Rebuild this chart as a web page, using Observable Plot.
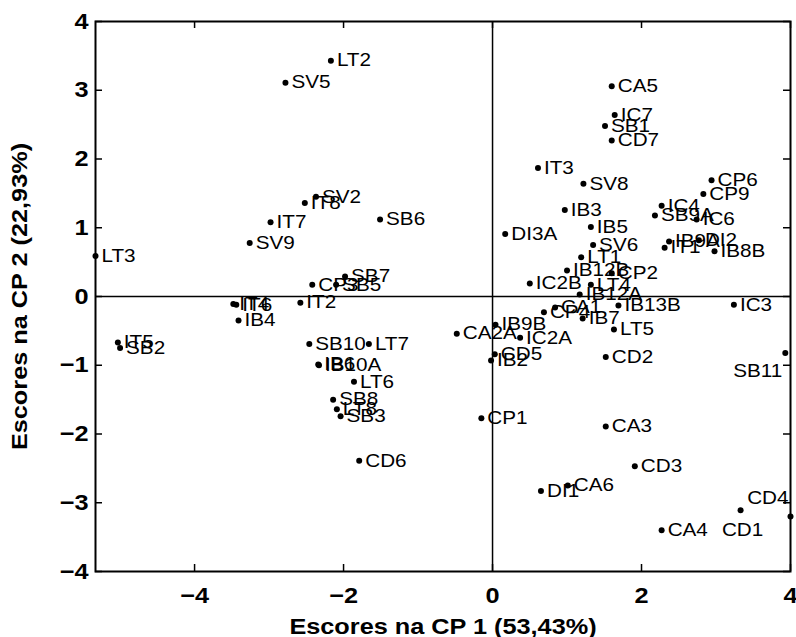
<!DOCTYPE html>
<html>
<head>
<meta charset="utf-8">
<script src="https://cdn.jsdelivr.net/npm/d3@7"></script>
<script src="https://cdn.jsdelivr.net/npm/@observablehq/plot@0.6"></script>
<style>
  html, body { margin: 0; padding: 0; background: #fff; }
</style>
</head>
<body>
<div id="chart"></div>
<script>
// Sample names and PCA scores
const names = ["LT2","SV5","SV2","IT8","IT7","SV9","LT3","SB6","CP3","SB5","SB7","IT2","IT4","IT6","IB4","IT5","SB2","SB10","LT7","IB6","IB10A","LT6","SB8","LT8","SB3","CD6",
  "CA5","IC7","SB1","CD7","IT3","SV8","IB3","IB5","DI3A","SV6","LT1","IB12B","CP2","IC2B","LT4","IB12A","IC4","SB9A","IC6","CP6","CP9","IB9A","DI2","IT1","IB8B","IC3","IB13B","CA1","CP4","IB7","LT5","IB9B","CA2A","IC2A","CD5","IB2","CD2","SB11","CP1","CA3","CD3","DI1","CA6","CD1","CD4","CA4"];
const pc1 = [-2.17,-2.78,-2.37,-2.52,-2.98,-3.26,-5.33,-1.51,-2.42,-2.10,-1.98,-2.58,-3.48,-3.44,-3.41,-5.03,-5.00,-2.46,-1.66,-2.34,-2.33,-1.86,-2.14,-2.09,-2.04,-1.79,
  1.60,1.64,1.51,1.60,0.61,1.22,0.97,1.32,0.17,1.35,1.19,1.00,1.60,0.50,1.32,1.17,2.27,2.18,2.74,2.94,2.83,2.37,2.77,2.31,2.98,3.24,1.69,0.84,0.69,1.21,1.63,0.04,-0.48,0.37,0.03,-0.02,1.52,3.93,-0.15,1.52,1.91,0.65,1.01,3.33,4.00,2.27];
const pc2 = [3.43,3.11,1.45,1.36,1.08,0.78,0.59,1.12,0.17,0.17,0.29,-0.09,-0.11,-0.12,-0.35,-0.67,-0.75,-0.69,-0.69,-0.99,-1.00,-1.24,-1.50,-1.64,-1.74,-2.39,
  3.06,2.64,2.48,2.27,1.87,1.64,1.26,1.01,0.91,0.75,0.57,0.38,0.34,0.19,0.17,0.03,1.32,1.18,1.12,1.69,1.49,0.80,0.82,0.71,0.66,-0.12,-0.13,-0.16,-0.23,-0.32,-0.48,-0.41,-0.54,-0.60,-0.84,-0.93,-0.88,-0.82,-1.77,-1.89,-2.47,-2.83,-2.75,-3.11,-3.20,-3.40];

const xTicks = [-4, -2, 0, 2, 4];
const yTicks = [-4, -3, -2, -1, 0, 1, 2, 3, 4];
const xDomain = [-5.33, 4];
const yDomain = [-4, 4];
const xTitle = "Escores na CP 1 (53,43%)";
const yTitle = "Escores na CP 2 (22,93%)";

const points = names.map((name, i) => ({name, pc1: pc1[i], pc2: pc2[i]}));

const W = 796, H = 637, mL = 95, mR = 6, mT = 21, mB = 66;
const innerW = W - mL - mR, innerH = H - mT - mB, tickLen = 7;
const font = "'Liberation Sans', Arial, Helvetica, sans-serif";

const special = new Set(["SB11", "CD1", "CD4"]);
const normal = points.filter(d => !special.has(d.name));
const pick = n => points.filter(d => d.name === n);

const svg = Plot.plot({
  width: W, height: H,
  marginLeft: mL, marginRight: mR, marginTop: mT, marginBottom: mB,
  style: {fontFamily: font, color: "black", background: "white", overflow: "visible"},
  x: {domain: xDomain},
  y: {domain: yDomain},
  marks: [
    Plot.ruleX([0], {stroke: "black", strokeWidth: 1.5}),
    Plot.ruleY([0], {stroke: "black", strokeWidth: 1.5}),
    // inward ticks on all four sides
    Plot.ruleX(xTicks, {insetTop: innerH - tickLen, stroke: "black", strokeWidth: 1.5}),
    Plot.ruleX(xTicks, {insetBottom: innerH - tickLen, stroke: "black", strokeWidth: 1.5}),
    Plot.ruleY(yTicks, {insetRight: innerW - tickLen, stroke: "black", strokeWidth: 1.5}),
    Plot.ruleY(yTicks, {insetLeft: innerW - tickLen, stroke: "black", strokeWidth: 1.5}),
    Plot.frame({stroke: "black", strokeWidth: 2}),
    Plot.axisX({ticks: xTicks, tickSize: 0, tickPadding: 16, label: null, fontSize: 22, fontWeight: "bold"}),
    Plot.axisY({ticks: yTicks, tickSize: 0, tickPadding: 7, label: null, fontSize: 22, fontWeight: "bold"}),
    Plot.axisX({ticks: [], tickSize: 0, label: xTitle, labelArrow: false, labelAnchor: "center", labelOffset: 62, fontSize: 22, fontWeight: "bold"}),
    Plot.axisY({ticks: [], tickSize: 0, label: yTitle, labelArrow: false, labelAnchor: "center", labelOffset: 84, fontSize: 22, fontWeight: "bold"}),
    Plot.dot(points, {x: "pc1", y: "pc2", r: 3, fill: "black", stroke: "none"}),
    Plot.text(normal, {x: "pc1", y: "pc2", text: "name", textAnchor: "start", dx: 6, fontSize: 18, fill: "black"}),
    Plot.text(pick("SB11"), {x: "pc1", y: "pc2", text: "name", textAnchor: "end", dx: -3, dy: 18, fontSize: 18, fill: "black"}),
    Plot.text(pick("CD1"), {x: "pc1", y: "pc2", text: "name", textAnchor: "middle", dx: 2, dy: 20, fontSize: 18, fill: "black"}),
    Plot.text(pick("CD4"), {x: "pc1", y: "pc2", text: "name", textAnchor: "end", dx: -2, dy: -18, fontSize: 18, fill: "black"})
  ]
});

// the reference typeface is a little wider than Arial: widen glyphs horizontally about each anchor
const S = 1.15;
svg.querySelectorAll("text").forEach(t => {
  const tr = t.getAttribute("transform") || "";
  const xa = t.getAttribute("x");
  const x = xa == null ? 0 : parseFloat(xa);
  if (!isFinite(x)) return;
  t.setAttribute("transform", `${tr} translate(${x},0) scale(${S},1) translate(${-x},0)`);
});

document.getElementById("chart").appendChild(svg);
</script>
</body>
</html>
